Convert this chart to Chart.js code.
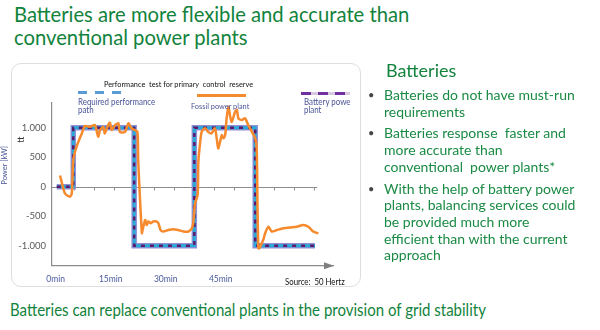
<!DOCTYPE html>
<html>
<head>
<meta charset="utf-8">
<script src="https://cdn.jsdelivr.net/npm/chart.js@4"></script>
<style>
  html, body { margin: 0; padding: 0; background: #fff; }
  body { width: 600px; height: 330px; position: relative; overflow: hidden; font-family: Lato, sans-serif; }
  .t { position: absolute; white-space: nowrap; transform-origin: 0 0; }
  #title { left: 14px; top: 3px; font-size: 21.5px; line-height: 23px; color: #12833c; transform: scaleX(0.94); }
  #bottom { left: 10px; top: 300px; font-size: 16.5px; line-height: 20px; color: #12833c; transform: scaleX(0.91); }
  #side-h { left: 386px; top: 61px; font-size: 18px; line-height: 19px; color: #12833c; }
  #side { position: absolute; left: 368px; top: 87px; margin: 0; padding: 0; list-style: none;
          font-size: 14px; line-height: 16.7px; color: #1a8a44; }
  #side li { position: relative; padding-left: 16px; margin-bottom: 5px; white-space: nowrap; }
  #side li::before { content: "\2022"; position: absolute; left: 0; top: 0; color: #444; font-size: 11px; }
  #panel { position: absolute; left: 11px; top: 63px; width: 350px; height: 224px;
           border: 1px solid #dedede; border-radius: 10px; box-sizing: border-box; }
  #clip { position: absolute; left: 0; top: 60px; width: 350px; height: 230px; overflow: hidden; }
  #clip canvas { position: absolute; left: 0; top: 0; }
  .lg { position: absolute; font-size: 8.8px; line-height: 8.7px; color: #4a5597; white-space: nowrap; transform-origin: 0 0; }
  .sw { position: absolute; height: 3px; }
</style>
</head>
<body>
<div id="title" class="t">Batteries are more flexible and accurate than<br>conventional power plants</div>

<div id="panel"></div>
<div id="clip">
  <canvas id="chart" width="350" height="230"></canvas>
  <div class="lg" style="left:104px;top:20px;color:#111;font-size:8.2px;transform:scaleX(0.9)">Performance&nbsp; test for primary&nbsp; control&nbsp; reserve</div>
  <div class="sw" style="left:78px;top:31px;width:44px;background:repeating-linear-gradient(90deg,#5b9bd5 0 9px,transparent 9px 17px)"></div>
  <div class="lg" style="left:78px;top:37.5px;transform:scaleX(0.9)">Required performance<br>path</div>
  <div class="sw" style="left:197px;top:34.3px;width:49px;background:#f58b30"></div>
  <div class="lg" style="left:191px;top:42px;font-size:8.2px;transform:scaleX(0.9)">Fossil power plant</div>
  <div class="sw" style="left:301px;top:32px;width:49px;background:repeating-linear-gradient(90deg,#7030a0 0 10px,#d8c8e0 10px 17px)"></div>
  <div class="lg" style="left:304px;top:37.5px;transform:scaleX(0.9)">Battery power<br>plant</div>
  <div class="lg" style="left:20px;top:87px;transform:translate(-50%,-50%) rotate(-90deg);color:#333;font-size:9px">tt</div>
  <div class="lg" style="left:20px;top:129px;transform:translate(-50%,-50%) rotate(-90deg);font-size:7.5px">Power [kW]</div>
  <div class="lg" style="left:285px;top:217px;color:#111;font-size:8.5px;line-height:10px;transform:scaleX(0.92)">Source:&nbsp; 50 Hertz</div>
</div>

<div id="side-h" class="t">Batteries</div>
<ul id="side">
  <li>Batteries do not have must-run<br>requirements</li>
  <li>Batteries response&nbsp; faster and<br>more accurate than<br>conventional&nbsp; power plants*</li>
  <li>With the help of battery power<br>plants, balancing services could<br>be provided much more<br>efficient than with the current<br>approach</li>
</ul>

<div id="bottom" class="t">Batteries can replace conventional plants in the provision of grid stability</div>

<script>
// data (time in minutes, power in kW)
const reqTimes  = [0.3, 4.8, 4.8, 21.4, 21.4, 37.8, 37.8, 54.4, 54.4, 70.7];
const reqValues = [0, 0, 1000, 1000, -1000, -1000, 1000, 1000, -1000, -1000];

const battTimes  = [0.3, 4.8, 4.8, 21.4, 21.4, 37.8, 37.8, 54.4, 54.4, 70.7];
const battValues = [0, 0, 1000, 1000, -1000, -1000, 1000, 1000, -1000, -1000];

const fossilTimes = [1.2, 2.5, 3.9, 4.4, 4.8, 5.7, 7.1, 8.0, 9.35, 10.7, 11.6, 12.1, 13.0, 13.4, 14.3, 14.8, 15.3, 16.2, 17.1, 17.5,
  18.9, 19.8, 20.7, 21.6, 22.3, 22.5, 23.0, 23.5, 23.6, 24.4, 24.8, 25.3, 25.9, 26.6, 27.5, 28.0, 28.6, 29.3, 30.7, 32.1,
  33.4, 34.8, 36.2, 37.1, 37.5, 38.0, 38.7, 38.9, 39.4, 39.8, 40.7, 41.6, 42.5, 43.4, 43.9, 44.3, 44.8, 45.3, 45.7, 46.2,
  46.6, 47.1, 47.5, 48.0, 48.9, 49.4, 49.8, 50.7, 51.6, 52.5, 53.5, 54.4, 54.8, 55.0, 55.25, 55.5, 56.6, 57.1, 58.0, 58.9,
  60.3, 62.1, 63.9, 65.7, 67.5, 68.9, 70.2, 71.6];
const fossilValues = [190, -110, -170, -110, 450, 680, 900, 1030, 1015, 1045, 850, 960, 1015, 905, 1045, 1085, 960, 1045, 1075, 930,
  930, 1075, 990, 960, 930, 450, -225, -790, -760, -565, -650, -590, -620, -590, -590, -620, -735, -760, -735, -720,
  -735, -760, -760, -705, -620, -280, -140, 425, 760, 930, 990, 930, 905, 990, 820, 650, 760, 875, 820, 875,
  1160, 1355, 1215, 1100, 1270, 1300, 1160, 1130, 1160, 1045, 930, 820, 650, -225, -1045, -1045, -900, -790, -680, -760,
  -735, -705, -690, -680, -650, -680, -760, -790];

const xTickValues = [0, 15, 30, 45];
const yTickValues = [-1000, -500, 0, 500, 1000];
const yTickLabels = ["-1.000", "-500", "0", "500", "1.000"];

function pts(ts, vs){ return ts.map((t,i)=>({x:t, y:vs[i]})); }

// zero line with small ticks, arrow head on the x axis
const axisDeco = {
  id: "axisDeco",
  beforeDatasetsDraw(chart){
    const {ctx, chartArea:a, scales:{x, y}} = chart;
    const y0 = Math.round(y.getPixelForValue(0)) + 0.5;
    ctx.save();
    ctx.strokeStyle = "#8c8c8c"; ctx.lineWidth = 1;
    ctx.beginPath();
    ctx.moveTo(a.left, y0); ctx.lineTo(x.getPixelForValue(71.3), y0);
    for(let px = x.getPixelForValue(5); px < x.getPixelForValue(71); px += 20){
      ctx.moveTo(Math.round(px)+0.5, y0); ctx.lineTo(Math.round(px)+0.5, y0+3);
    }
    ctx.stroke();
    ctx.fillStyle = "#7f7f7f";
    ctx.beginPath();
    ctx.moveTo(a.right+1, a.bottom); ctx.lineTo(a.right-9, a.bottom-3.5); ctx.lineTo(a.right-9, a.bottom+3.5);
    ctx.closePath(); ctx.fill();
    ctx.restore();
  }
};

new Chart(document.getElementById("chart"), {
  type: "line",
  data: {
    datasets: [
      { label: "Fossil power plant", data: pts(fossilTimes, fossilValues), borderColor: "#f68a2c", borderWidth: 2.5,
        pointRadius: 0, tension: 0.25, order: 1 },
      { label: "Battery power plant", data: pts(battTimes, battValues), borderColor: "#5e1a6a", borderWidth: 2.5,
        borderDash: [4, 5], pointRadius: 0, tension: 0, order: 2 },
      { label: "Required performance path", data: pts(reqTimes, reqValues), borderColor: "#29a9d8", borderWidth: 3,
        pointRadius: 0, tension: 0, order: 3 },
      { label: "outline", data: pts(battTimes, battValues), borderColor: "#938ed6", borderWidth: 5.5,
        pointRadius: 0, tension: 0, order: 4 }
    ]
  },
  options: {
    responsive: false, animation: false,
    layout: { padding: { left: 0, top: 43, right: 17, bottom: 0 } },
    plugins: { legend: { display: false }, tooltip: { enabled: false } },
    scales: {
      x: {
        type: "linear", min: -1, max: 75.6,
        afterFit(s){ s.height = 24.3; },
        afterBuildTicks(s){ s.ticks = xTickValues.map(v=>({value:v})); },
        grid: { display: false, drawTicks: false },
        border: { display: true, color: "#8c8c8c", width: 1.2 },
        ticks: { padding: 8, color: "#4a5a9c", font: { family: "Lato", size: 8.5 }, maxRotation: 0, autoSkip: false,
                 callback: v => v + "min" }
      },
      y: {
        min: -1340, max: 1420,
        afterFit(s){ s.width = 52; },
        afterBuildTicks(s){ s.ticks = yTickValues.map(v=>({value:v})); },
        grid: { display: false, drawTicks: false },
        border: { display: true, color: "#8c8c8c", width: 1.2 },
        ticks: { padding: 6, color: "#595959", font: { family: "Lato", size: 9.5 },
                 callback: (v, i) => yTickLabels[i] }
      }
    }
  },
  plugins: [axisDeco]
});
</script>
</body>
</html>
